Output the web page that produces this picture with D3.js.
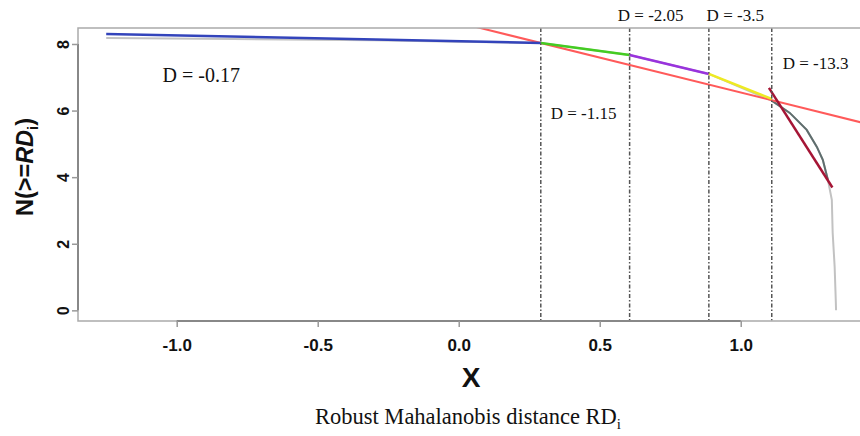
<!DOCTYPE html>
<html><head><meta charset="utf-8">
<script src="https://cdn.jsdelivr.net/npm/d3@7"></script>
<style>body{margin:0;background:#fff}</style>
</head><body>
<script>
// ---- data ----
const xTicks = [-1.0, -0.5, 0.0, 0.5, 1.0];
const xTickLabels = ["-1.0", "-0.5", "0.0", "0.5", "1.0"];
const yTicks = [0, 2, 4, 6, 8];
const yTickLabels = ["0", "2", "4", "6", "8"];
const breakX = [0.291, 0.606, 0.887, 1.11];
// empirical curve N(>=RD) (gray)
const curveX = [-1.25, -0.8, -0.3, 0.0, 0.291, 0.606, 0.887, 1.11, 1.174, 1.234, 1.270, 1.291, 1.309, 1.323, 1.326, 1.333, 1.337, 1.338];
const curveY = [8.18, 8.15, 8.11, 8.07, 8.03, 7.67, 7.10, 6.30, 5.93, 5.42, 4.91, 4.52, 3.92, 3.32, 2.33, 1.31, 0.30, 0.0];
// dark part of curve
const darkX = [1.11, 1.174, 1.234, 1.270, 1.291, 1.309];
const darkY = [6.30, 5.93, 5.42, 4.91, 4.52, 3.92];
// piecewise fitted segments
const segNames = ["blue", "green", "purple", "yellow", "darkred"];
const segX0 = [-1.25, 0.291, 0.606, 0.887, 1.100];
const segY0 = [8.30, 8.03, 7.67, 7.10, 6.68];
const segX1 = [0.291, 0.606, 0.887, 1.11, 1.325];
const segY1 = [8.03, 7.67, 7.10, 6.35, 3.69];
// global line
const redSlope = -2.1, redX0 = 0.291, redY0 = 8.03;
// annotations
const labels = ["D = -0.17", "D = -1.15", "D = -2.05", "D = -3.5", "D = -13.3"];
const labelX = [-1.05, 0.326, 0.564, 0.879, 1.149];
const labelY = [6.86, 5.75, 8.69, 8.69, 7.25];

// ---- styles ----
const segColors = {blue:"#3344bb", green:"#44cc22", purple:"#9933dd", yellow:"#eeea22", darkred:"#a51535"};
const labelSizes = [20, 17, 17, 17, 17];

const W = 860, H = 436;
const svg = d3.select("body").append("svg").attr("width", W).attr("height", H);
const x = d3.scaleLinear().domain([-1.35, 1.43]).range([78, 862]);
const y = d3.scaleLinear().domain([-0.32, 8.48]).range([321, 28]);

svg.append("defs").append("clipPath").attr("id","plotclip").append("rect")
  .attr("x", 78).attr("y", 28).attr("width", 862-78).attr("height", 321-28);

const g = svg.append("g").attr("clip-path","url(#plotclip)");
const line = d3.line().x(d=>x(d[0])).y(d=>y(d[1]));

// gray curve
g.append("path").attr("d", line(curveX.map((v,i)=>[v,curveY[i]])))
  .attr("fill","none").attr("stroke","#c2c2c2").attr("stroke-width",2);
g.append("path").attr("d", line(darkX.map((v,i)=>[v,darkY[i]])))
  .attr("fill","none").attr("stroke","#5f6e6e").attr("stroke-width",2);

// red global line
const xd = x.domain();
g.append("path").attr("d", line(xd.map(v=>[v, redY0 + redSlope*(v-redX0)])))
  .attr("fill","none").attr("stroke","#ff5a5a").attr("stroke-width",2);

// segments
segNames.forEach((n,i)=>{
  g.append("path").attr("d", line([[segX0[i],segY0[i]],[segX1[i],segY1[i]]]))
   .attr("fill","none").attr("stroke",segColors[n]).attr("stroke-width",2.5);
});

// vertical dot-dash lines
breakX.forEach(b=>{
  svg.append("line").attr("x1",x(b)).attr("x2",x(b)).attr("y1",28).attr("y2",321)
    .attr("stroke","#555").attr("stroke-width",1.5).attr("stroke-dasharray","4,2,1.5,2");
});

// frame
svg.append("path").attr("d","M862,28H78V321H862").attr("fill","none").attr("stroke","#aaa").attr("stroke-width",1.5);

// axes
const xAxis = svg.append("g").attr("transform","translate(0,321)")
  .call(d3.axisBottom(x).tickValues(xTicks).tickFormat((d,i)=>xTickLabels[i]).tickSize(6).tickPadding(12));
xAxis.select(".domain").attr("d", `M${x(xTicks[0])},0H${x(xTicks[xTicks.length-1])}`).attr("stroke","#888").attr("stroke-width",2);
xAxis.selectAll(".tick line").attr("stroke","#999").attr("stroke-width",1.5);
xAxis.selectAll("text").attr("font-family","Liberation Sans, Arial, sans-serif")
  .attr("font-weight","bold").attr("font-size",17).attr("fill","#111");

const yAxis = svg.append("g").attr("transform","translate(78,0)")
  .call(d3.axisLeft(y).tickValues(yTicks).tickFormat((d,i)=>yTickLabels[i]).tickSize(6));
yAxis.select(".domain").attr("d", `M0,${y(yTicks[0])}V${y(yTicks[yTicks.length-1])}`).attr("stroke","#888").attr("stroke-width",2);
yAxis.selectAll(".tick line").attr("stroke","#999").attr("stroke-width",1.5);
yAxis.selectAll("text").attr("x",0).attr("dy",0).attr("text-anchor","middle")
  .attr("transform","translate(-9,0) rotate(-90)")
  .attr("font-family","Liberation Sans, Arial, sans-serif")
  .attr("font-weight","bold").attr("font-size",16).attr("fill","#111");

// annotations
labels.forEach((t,i)=>{
  svg.append("text").attr("x",x(labelX[i])).attr("y",y(labelY[i]))
    .attr("font-family","Liberation Serif, Times New Roman, serif")
    .attr("font-size",labelSizes[i]).attr("fill","#111").text(t);
});

// axis titles
svg.append("text").attr("x",471).attr("y",387).attr("text-anchor","middle")
  .attr("font-family","Liberation Sans, Arial, sans-serif").attr("font-weight","bold")
  .attr("font-size",28).attr("fill","#111").text("X");

const xt = svg.append("text").attr("x",468).attr("y",424).attr("text-anchor","middle")
  .attr("font-family","Liberation Serif, Times New Roman, serif").attr("font-size",22.5).attr("fill","#111");
xt.append("tspan").text("Robust Mahalanobis distance RD");
xt.append("tspan").attr("font-size",15).attr("dy",5).text("i");

const yt = svg.append("text").attr("transform","translate(33,167) rotate(-90)").attr("text-anchor","middle")
  .attr("font-family","Liberation Sans, Arial, sans-serif").attr("font-weight","bold")
  .attr("font-size",23.5).attr("fill","#111");
yt.append("tspan").text("N(>=");
yt.append("tspan").attr("font-style","italic").text("RD");
yt.append("tspan").attr("font-size",15).attr("dy",5).text("i");
yt.append("tspan").attr("dy",-5).text(")");
</script>
</body></html>
